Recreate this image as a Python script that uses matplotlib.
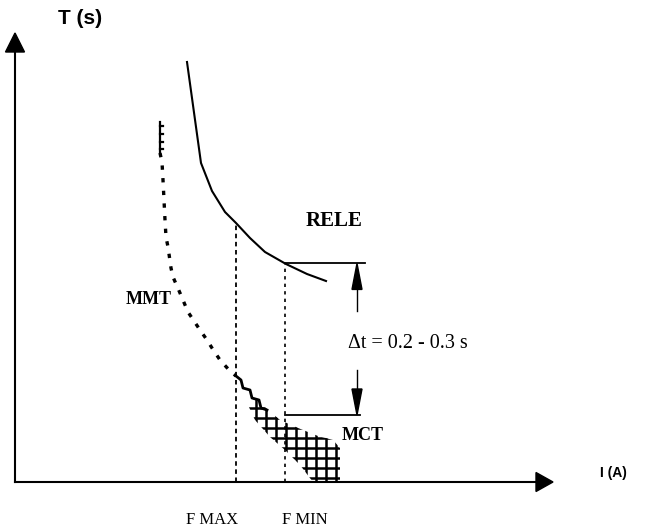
import numpy as np
import matplotlib
matplotlib.use("Agg")
import matplotlib.pyplot as plt
from matplotlib.patches import Polygon

# schematic units: 1 unit = 1 px, origin at the axes corner
# relay (RELE) curve
rele_x = [172, 186, 197, 210, 221, 235, 250, 271, 292, 311]
rele_t = [420, 319, 291, 270, 259, 244, 230, 218, 208, 201]

# fuse / breaker (MMT) curve, dotted part
mmt_x = [145, 147, 148, 149, 150, 151, 153, 156, 158, 165, 173, 185, 192, 197, 205, 215, 221]
mmt_t = [329, 320, 302, 282, 262, 245, 235, 214, 205, 189, 170, 152, 142, 134, 122, 111, 106]
# stair-step part of MMT
step_x = [221, 226, 228, 235, 237, 244, 246, 252]
step_t = [106, 102, 94, 92, 84, 82, 74, 72]
# ladder at the top of MMT
ladder_x = 145
ladder_t = [360, 329]
ladder_ticks = [356, 348, 340, 333]

# cross-hatched zone (MCT operation area)
zone_x = [240, 253, 265, 283, 303, 318, 325, 325, 298, 285, 270, 255, 240, 233]
zone_t = [84, 72, 62, 54, 46, 42, 34, 0, 0, 17, 32, 45, 62, 77]

f_max = 221
f_min = 270
rele_level_end = 350
mct_t = 67
mct_end = 345
dt_x = 342

x_axis_end = 538
y_axis_end = 449

fig = plt.figure(figsize=(6.51, 5.30), dpi=100)
ax = fig.add_axes([0, 0, 1, 1])
ax.set_xlim(-15, 636)
ax.set_ylim(-48, 482)
ax.axis("off")

serif = "Liberation Serif"
sans = "Liberation Sans"

# axes with arrow heads
ax.plot([0, 0], [0, y_axis_end - 18], color="black", lw=1.5)
ax.plot([0, x_axis_end - 17], [0, 0], color="black", lw=1.5)
ax.add_patch(Polygon([[-9.5, y_axis_end - 19], [9.5, y_axis_end - 19], [0, y_axis_end]],
                     closed=True, color="black"))
ax.add_patch(Polygon([[x_axis_end - 17, 9.5], [x_axis_end - 17, -9.5], [x_axis_end, 0]],
                     closed=True, color="black"))

# relay curve
ax.plot(rele_x, rele_t, color="black", lw=1.5)

# vertical lines at F MAX / F MIN
t_fmax = np.interp(f_max, rele_x, rele_t)
t_fmin = np.interp(f_min, rele_x, rele_t)
ax.plot([f_max, f_max], [0, t_fmax], color="black", lw=1.3, linestyle=(0, (2.5, 2.0)))
ax.plot([f_min, f_min], [0, t_fmin], color="black", lw=1.2, linestyle=(0, (2.0, 2.5)))

# horizontal reference levels
ax.plot([f_min, rele_level_end], [t_fmin, t_fmin], color="black", lw=1.3)
ax.plot([f_min, mct_end], [mct_t, mct_t], color="black", lw=1.3)

# delta t arrows
ax.plot([dt_x, dt_x], [t_fmin - 25, t_fmin - 48], color="black", lw=1.0)
ax.add_patch(Polygon([[dt_x - 5, t_fmin - 26], [dt_x + 5, t_fmin - 26], [dt_x, t_fmin]],
                     closed=True, color="black"))
ax.plot([dt_x, dt_x], [mct_t + 25, mct_t + 45], color="black", lw=1.0)
ax.add_patch(Polygon([[dt_x - 5, mct_t + 26], [dt_x + 5, mct_t + 26], [dt_x, mct_t]],
                     closed=True, color="black"))

# MMT curve
ax.plot([ladder_x, ladder_x], ladder_t, color="black", lw=1.6)
for t in ladder_ticks:
    ax.plot([ladder_x, ladder_x + 3], [t, t], color="black", lw=1.6)
ax.plot(mmt_x, mmt_t, color="black", lw=2.4, linestyle=(0, (1.3, 2.5)))
ax.plot(step_x, step_t, color="black", lw=2.0)

# cross-hatched zone
zone = Polygon(np.column_stack([zone_x, zone_t]), closed=True, facecolor="none",
               edgecolor="none")
ax.add_patch(zone)
for gx in np.arange(min(zone_x) + 8, max(zone_x) + 1, 10):
    ln, = ax.plot([gx, gx], [0, max(zone_t)], color="black", lw=1.8)
    ln.set_clip_path(zone)
for gy in np.arange(4, max(zone_t) + 1, 10):
    ln, = ax.plot([min(zone_x), max(zone_x)], [gy, gy], color="black", lw=1.8)
    ln.set_clip_path(zone)

# labels
ax.text(43, 463, "T (s)", family=sans, weight="bold", fontsize=15, va="center", ha="left")
ax.text(585, 9, "I (A)", family=sans, weight="bold", fontsize=10, va="center", ha="left")
ax.text(334 - 15, 261, "RELE", family=serif, weight="bold", fontsize=15, va="center", ha="center")
ax.text(134, 182, "MMT", family=serif, weight="bold", fontsize=13, va="center", ha="center")
ax.text(348, 47, "MCT", family=serif, weight="bold", fontsize=13, va="center", ha="center")
ax.text(333, 139, "Δt = 0.2 - 0.3 s", family=serif, fontsize=14.5, va="center", ha="left")
ax.text(197, -38, "F MAX", family=serif, fontsize=12, va="center", ha="center")
ax.text(290, -38, "F MIN", family=serif, fontsize=12, va="center", ha="center")

fig.savefig("out.png", dpi=100)
